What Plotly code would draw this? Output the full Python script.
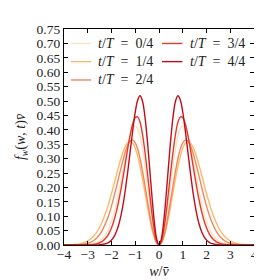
import plotly.graph_objects as go

w = [-4.0, -3.6, -3.3, -3.0, -2.8, -2.6, -2.4, -2.2, -2.1, -2.0, -1.9, -1.8, -1.7, -1.6, -1.5,
     -1.4, -1.3, -1.2, -1.1, -1.0, -0.9, -0.8, -0.7, -0.6, -0.5, -0.4, -0.3, -0.2, -0.1,
     0.0, 0.1, 0.2, 0.3, 0.4, 0.5, 0.6, 0.7, 0.8, 0.9, 1.0, 1.1, 1.2, 1.3, 1.4, 1.5,
     1.6, 1.7, 1.8, 1.9, 2.0, 2.1, 2.2, 2.4, 2.6, 2.8, 3.0, 3.3, 3.6, 4.0]

f_0 = [0, 0, 0.0002, 0.0013, 0.0035, 0.0088, 0.0204, 0.0430, 0.0602, 0.0822, 0.110, 0.142, 0.180, 0.222, 0.266,
       0.310, 0.350, 0.383, 0.405, 0.413, 0.405, 0.379, 0.337, 0.282, 0.219, 0.153, 0.0923, 0.0431, 0.0111,
       0, 0.0111, 0.0431, 0.0923, 0.153, 0.219, 0.282, 0.337, 0.379, 0.405, 0.413, 0.405, 0.383, 0.350, 0.310, 0.266,
       0.222, 0.180, 0.142, 0.110, 0.0822, 0.0602, 0.0430, 0.0204, 0.0088, 0.0035, 0.0013, 0.0002, 0, 0]

f_1 = [0.0002, 0.0014, 0.0048, 0.0140, 0.0266, 0.0474, 0.0790, 0.123, 0.150, 0.179, 0.210, 0.242, 0.273, 0.301, 0.326,
       0.345, 0.357, 0.360, 0.353, 0.336, 0.309, 0.274, 0.232, 0.186, 0.139, 0.0945, 0.0557, 0.0256, 0.0065,
       0, 0.0065, 0.0256, 0.0557, 0.0945, 0.139, 0.186, 0.232, 0.274, 0.309, 0.336, 0.353, 0.360, 0.357, 0.345, 0.326,
       0.301, 0.273, 0.242, 0.210, 0.179, 0.150, 0.123, 0.0790, 0.0474, 0.0266, 0.0140, 0.0048, 0.0014, 0.0002]

f_2 = [0, 0.0004, 0.0017, 0.0061, 0.0131, 0.0264, 0.0492, 0.0849, 0.108, 0.135, 0.166, 0.199, 0.234, 0.268, 0.300,
       0.328, 0.350, 0.362, 0.364, 0.355, 0.334, 0.301, 0.259, 0.211, 0.160, 0.110, 0.0652, 0.0301, 0.0077,
       0, 0.0077, 0.0301, 0.0652, 0.110, 0.160, 0.211, 0.259, 0.301, 0.334, 0.355, 0.364, 0.362, 0.350, 0.328, 0.300,
       0.268, 0.234, 0.199, 0.166, 0.135, 0.108, 0.0849, 0.0492, 0.0264, 0.0131, 0.0061, 0.0017, 0.0004, 0]

f_3 = [0, 0, 0.0001, 0.0005, 0.0015, 0.0044, 0.0117, 0.0278, 0.0412, 0.0595, 0.0835, 0.114, 0.151, 0.194, 0.242,
       0.293, 0.343, 0.388, 0.423, 0.443, 0.445, 0.427, 0.387, 0.329, 0.259, 0.184, 0.112, 0.0526, 0.0136,
       0, 0.0136, 0.0526, 0.112, 0.184, 0.259, 0.329, 0.387, 0.427, 0.445, 0.443, 0.423, 0.388, 0.343, 0.293, 0.242,
       0.194, 0.151, 0.114, 0.0835, 0.0595, 0.0412, 0.0278, 0.0117, 0.0044, 0.0015, 0.0005, 0.0001, 0, 0]

f_4 = [0, 0, 0, 0, 0.0001, 0.0004, 0.0016, 0.0055, 0.0099, 0.0170, 0.0282, 0.0451, 0.0695, 0.103, 0.147,
       0.202, 0.265, 0.334, 0.402, 0.461, 0.503, 0.518, 0.501, 0.451, 0.372, 0.274, 0.172, 0.0827, 0.0217,
       0, 0.0217, 0.0827, 0.172, 0.274, 0.372, 0.451, 0.501, 0.518, 0.503, 0.461, 0.402, 0.334, 0.265, 0.202, 0.147,
       0.103, 0.0695, 0.0451, 0.0282, 0.0170, 0.0099, 0.0055, 0.0016, 0.0004, 0.0001, 0, 0, 0, 0]

labels = ["0/4", "1/4", "2/4", "3/4", "4/4"]
series = [f_0, f_1, f_2, f_3, f_4]
colors = ["#fde3c2", "#fdb96c", "#f4855b", "#e5392d", "#bd0f1b"]

x_ticks = [-4, -3, -2, -1, 0, 1, 2, 3, 4]
y_ticks = [0.0, 0.05, 0.10, 0.15, 0.20, 0.25, 0.30, 0.35, 0.40, 0.45, 0.50, 0.55, 0.60, 0.65, 0.70, 0.75]

FONT = "Liberation Serif"

# legend layout (paper coordinates of the plot area): two columns, 3 + 2 rows
leg_col_x = [0.036, 0.036, 0.036, 0.516, 0.516]
leg_row_y = [0.933, 0.849, 0.764, 0.933, 0.849]
leg_line_len = 0.107
leg_text_gap = 0.027

fig = go.Figure()
shapes = []
annotations = []
for i, (lab, ys, col) in enumerate(zip(labels, series, colors)):
    name = "<i>t</i>/<i>T</i>\u2002=\u2002" + lab
    fig.add_trace(go.Scatter(
        x=w, y=ys, mode="lines", line=dict(color=col, width=1.4, shape="spline", smoothing=1.0),
        name=name, showlegend=False))
    x0 = leg_col_x[i]
    y0 = leg_row_y[i]
    shapes.append(dict(type="line", xref="paper", yref="paper", x0=x0, x1=x0 + leg_line_len,
                       y0=y0, y1=y0, line=dict(color=col, width=1.4)))
    annotations.append(dict(xref="paper", yref="paper", x=x0 + leg_line_len + leg_text_gap, y=y0,
                            xanchor="left", yanchor="middle", showarrow=False, text=name,
                            font=dict(family=FONT, size=14, color="#222")))

axis_common = dict(showline=True, linecolor="black", linewidth=1.3, mirror="ticks",
                   ticks="inside", ticklen=4, tickwidth=1, tickcolor="black",
                   showgrid=False, zeroline=False,
                   tickfont=dict(family=FONT, size=13.5, color="#222"))

fig.update_layout(
    width=262, height=280,
    margin=dict(l=56, r=14, t=21, b=43),
    paper_bgcolor="white", plot_bgcolor="white",
    font=dict(family=FONT, size=13, color="#222"),
    showlegend=False,
    shapes=shapes,
    annotations=annotations,
    xaxis=dict(range=[-4, 4], tickvals=x_ticks, ticktext=[("\u2212" + str(-v)) if v < 0 else str(v) for v in x_ticks],
               ticklabelstandoff=-3,
               title=dict(text="<i>w</i>/<i>v\u0304</i>", font=dict(family=FONT, size=14), standoff=4),
               **axis_common),
    yaxis=dict(range=[0, 0.75], tickvals=y_ticks, ticktext=["%.2f" % v for v in y_ticks],
               title=dict(text="<i>f<sub>w</sub></i>(<i>w</i>, <i>t</i>)<i>v\u0304</i>", font=dict(family=FONT, size=14), standoff=7),
               **axis_common),
)

fig.write_html("out.html")
